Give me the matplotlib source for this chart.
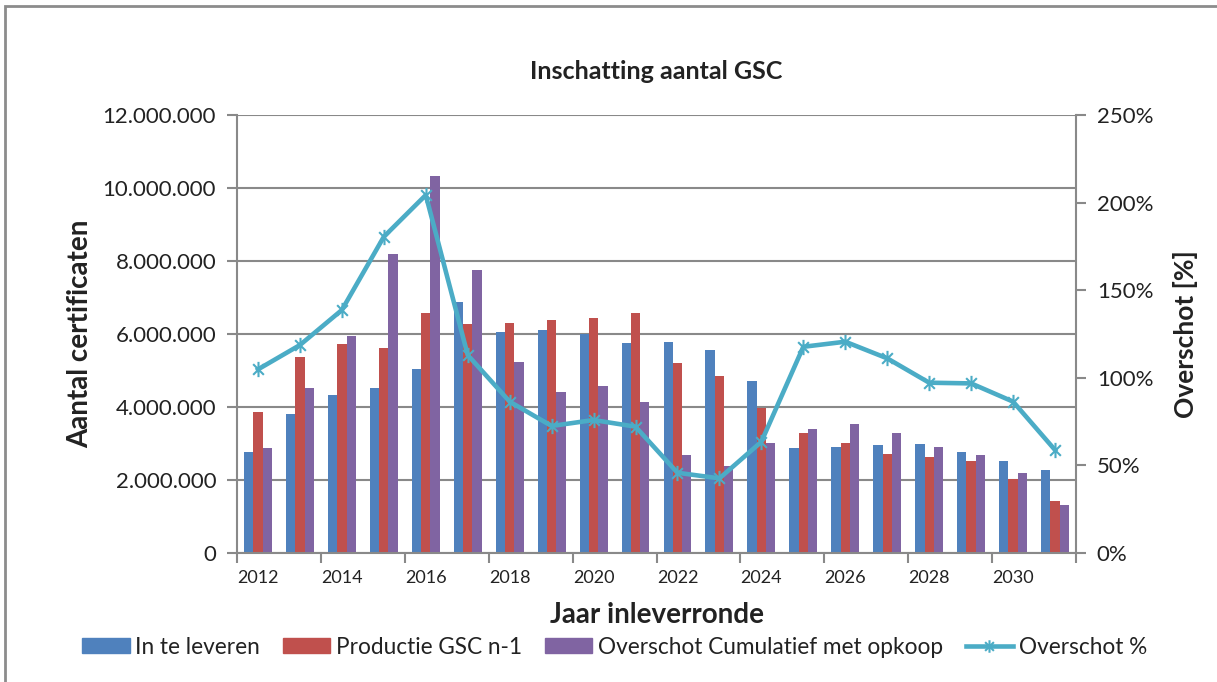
import numpy as np
import matplotlib.pyplot as plt
from matplotlib.path import Path
from matplotlib.patches import Patch, Rectangle
from matplotlib.lines import Line2D
from matplotlib.ticker import FuncFormatter

plt.rcParams['font.family'] = ['Lato', 'DejaVu Sans']

# data
years = list(range(2012, 2032))
in_te_leveren = [2.76, 3.80, 4.32, 4.51, 5.03, 6.87, 6.05, 6.11, 6.01, 5.75,
                 5.78, 5.56, 4.70, 2.88, 2.91, 2.95, 2.98, 2.76, 2.52, 2.27]
productie = [3.85, 5.36, 5.72, 5.63, 6.57, 6.27, 6.31, 6.37, 6.44, 6.58,
             5.20, 4.85, 3.96, 3.28, 3.01, 2.72, 2.62, 2.52, 2.04, 1.42]
overschot_cum = [2.88, 4.51, 5.95, 8.20, 10.32, 7.75, 5.22, 4.41, 4.58, 4.13,
                 2.68, 2.39, 3.01, 3.40, 3.53, 3.28, 2.91, 2.68, 2.20, 1.32]
overschot_pct = [104.8, 118.7, 138.7, 180.5, 204.3, 113.0, 86.4, 72.5, 75.9, 72.1,
                 45.8, 42.6, 63.5, 117.7, 120.6, 111.1, 97.2, 96.8, 86.4, 58.8]

blue = '#4F81BD'
red = '#C0504D'
purple = '#8064A2'
cyan = '#4BACC6'
grid_c = '#898989'
txt = '#222222'

fig = plt.figure(figsize=(12.17, 6.82), dpi=100)
ax = fig.add_axes([237 / 1217, 1 - 553 / 682, (1076 - 237) / 1217, (553 - 115) / 682])

x = np.arange(len(years))
w = 0.222
ax.bar(x - w, np.array(in_te_leveren) * 1e6, w, color=blue, label='In te leveren')
ax.bar(x, np.array(productie) * 1e6, w, color=red, label='Productie GSC n-1')
ax.bar(x + w, np.array(overschot_cum) * 1e6, w, color=purple,
       label='Overschot Cumulatief met opkoop')

ax.set_xlim(-0.5, len(years) - 0.5)
ax.set_ylim(0, 12e6)
ax.set_yticks(np.arange(0, 12e6 + 1, 2e6))
ax.yaxis.set_major_formatter(FuncFormatter(lambda v, p: f'{int(v):,}'.replace(',', '.')))
ax.set_axisbelow(True)
ax.grid(axis='y', color=grid_c, lw=1.5)

ax.set_xticks(x[::2])
ax.set_xticklabels([str(y) for y in years[::2]], fontsize=13, color=txt)
ax.set_xticks(np.arange(-0.5, len(years), 2), minor=True)
ax.tick_params(axis='x', which='major', length=0, pad=12)
ax.tick_params(axis='x', which='minor', length=7, width=1.5, color=grid_c)
ax.tick_params(axis='y', length=7, width=1.5, color=grid_c, labelsize=16,
               labelcolor=txt, pad=8)
for s in ax.spines.values():
    s.set_color(grid_c)
    s.set_linewidth(1.5)
ax.spines['top'].set_visible(False)

ax.set_ylabel('Aantal certificaten', fontsize=20, fontweight='bold', color=txt, labelpad=7)
ax.set_xlabel('Jaar inleverronde', fontsize=20, fontweight='bold', color=txt, labelpad=12)

# secondary axis for the percentage line
ax2 = ax.twinx()
star = Path([(0, -1), (0, 1), (-0.7, -0.7), (0.7, 0.7), (-0.7, 0.7), (0.7, -0.7)],
            [Path.MOVETO, Path.LINETO] * 3)
ax2.plot(x, overschot_pct, color=cyan, lw=3.3, marker=star, markersize=11,
         markeredgewidth=1.5, label='Overschot %')
ax2.set_ylim(0, 250)
ax2.set_yticks(np.arange(0, 251, 50))
ax2.yaxis.set_major_formatter(FuncFormatter(lambda v, p: f'{v:.0f}%'))
ax2.tick_params(axis='y', length=7, width=1.5, color=grid_c, labelsize=16,
                labelcolor=txt, pad=8)
for s in ax2.spines.values():
    s.set_visible(False)
ax2.set_ylabel('Overschot [%]', fontsize=19, fontweight='bold', color=txt, labelpad=14)

ax.set_title('Inschatting aantal GSC', fontsize=18, fontweight='bold', color=txt, pad=26)

handles = [Patch(color=blue), Patch(color=red), Patch(color=purple),
           Line2D([], [], color=cyan, lw=3.3, marker=star, markersize=9, markeredgewidth=1.5)]
labels = ['In te leveren', 'Productie GSC n-1', 'Overschot Cumulatief met opkoop', 'Overschot %']
fig.legend(handles, labels, loc='center', bbox_to_anchor=(0.505, 1 - 647 / 682), ncol=4,
           frameon=False, fontsize=16.3, handlelength=2.1, handleheight=0.65,
           handletextpad=0.25, columnspacing=1.0, labelcolor=txt)

# outer chart border (right and bottom edges fall off the picture)
fig.patches.append(Rectangle((5 / 1217, -0.05), 1.1, 1.05 - 6 / 682, transform=fig.transFigure,
                             fill=False, edgecolor='#8c8c8c', lw=2))

fig.savefig('out.png', dpi=100)
